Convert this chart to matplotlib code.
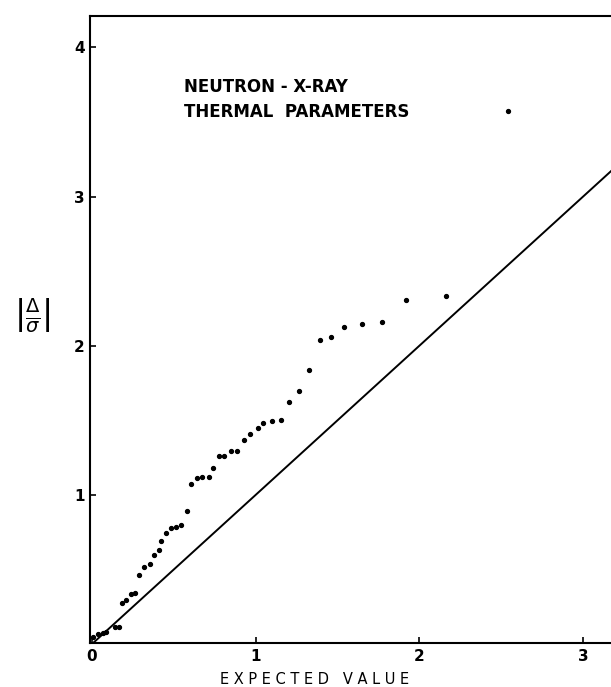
import numpy as np
import matplotlib
matplotlib.use("Agg")
import matplotlib.pyplot as plt

expected = [0.006, 0.037, 0.067, 0.086, 0.139, 0.163, 0.185, 0.21, 0.236, 0.265,
            0.287, 0.318, 0.352, 0.379, 0.409, 0.423, 0.454, 0.484, 0.515, 0.542,
            0.582, 0.603, 0.64, 0.674, 0.715, 0.741, 0.776, 0.806, 0.847, 0.888,
            0.93, 0.968, 1.016, 1.046, 1.1, 1.153, 1.205, 1.265, 1.327, 1.393,
            1.46, 1.541, 1.648, 1.77, 1.92, 2.161, 2.543]
observed = [0.045, 0.065, 0.076, 0.081, 0.112, 0.116, 0.273, 0.295, 0.336, 0.344,
            0.463, 0.519, 0.535, 0.597, 0.631, 0.691, 0.747, 0.777, 0.787, 0.799,
            0.895, 1.072, 1.112, 1.123, 1.123, 1.183, 1.262, 1.262, 1.295, 1.297,
            1.369, 1.407, 1.446, 1.485, 1.495, 1.499, 1.622, 1.693, 1.834, 2.036,
            2.058, 2.123, 2.146, 2.158, 2.309, 2.334, 3.575]

x_ticks = [0, 1, 2, 3]
y_ticks = [1, 2, 3, 4]
ref_line = [0, 3.3]

fig = plt.figure(figsize=(6.11, 6.87), dpi=100)
ax = fig.add_axes([90 / 611, 44 / 687, 521 / 611, 627 / 687])

ax.plot(ref_line, ref_line, color="black", lw=1.4)
ax.plot(expected, observed, "o", color="black", ms=2.8, mec="black")

ax.set_xlim(-0.012, 3.17)
ax.set_ylim(0.007, 4.21)
ax.set_xticks(x_ticks)
ax.set_yticks(y_ticks)
ax.tick_params(direction="in", length=4, width=1.2, labelsize=11, pad=4)
for lab in ax.get_xticklabels() + ax.get_yticklabels():
    lab.set_fontweight("bold")

ax.spines["right"].set_visible(False)
for s in ["left", "bottom", "top"]:
    ax.spines[s].set_linewidth(1.5)

ax.text(0.56, 3.65, "NEUTRON - X-RAY\nTHERMAL  PARAMETERS", fontsize=12,
        fontweight="bold", va="center", ha="left", linespacing=1.5)

fig.text(315 / 611, 1 - 679 / 687, "E X P E C T E D   V A L U E", fontsize=10.5,
         ha="center", va="center")
fig.text(32 / 611, 1 - 316 / 687, r"$\left|\frac{\Delta}{\sigma}\right|$",
         fontsize=20, ha="center", va="center")

fig.savefig("out.png", dpi=100)
